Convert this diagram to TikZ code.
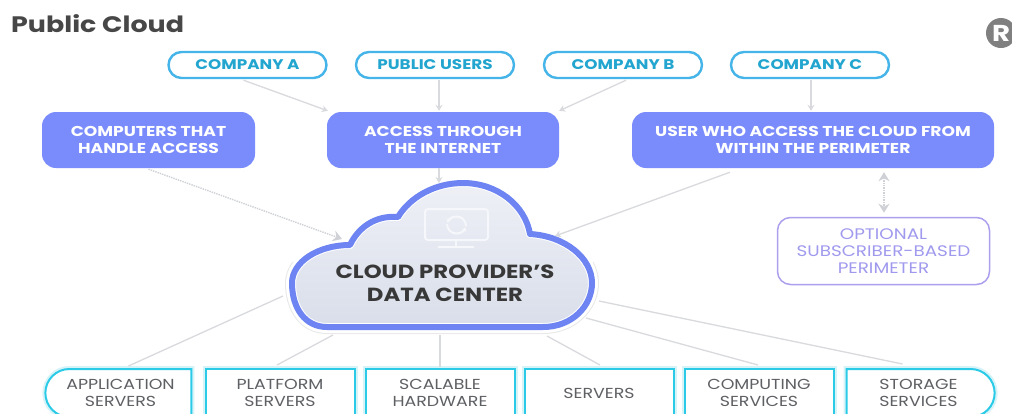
\documentclass[tikz,border=0pt]{standalone}
\usepackage{fontspec}
\setmainfont{Poppins}[FakeStretch=1.2]
\usetikzlibrary{arrows.meta,shapes.misc}
\definecolor{lineGrey}{HTML}{D9DADD}
\definecolor{dotGrey}{HTML}{CFD1D6}
\definecolor{pillBlue}{HTML}{45B4E8}
\definecolor{pillText}{HTML}{22A5CF}
\definecolor{boxPurple}{HTML}{7A8CFB}
\definecolor{optLine}{HTML}{AC9FEE}
\definecolor{optText}{HTML}{A09AEE}
\definecolor{cloudBlue}{HTML}{6E84F2}
\definecolor{cloudTop}{HTML}{EEF0F6}
\definecolor{cloudBot}{HTML}{D9DEEA}
\definecolor{cyanLine}{HTML}{2BCBE8}
\definecolor{cyanGlow}{HTML}{D6F3F8}
\definecolor{bottomText}{HTML}{5E6064}
\definecolor{iconCol}{HTML}{F6F7FA}
\tikzset{
  x=1pt,y=-1pt,
  conn/.style={draw=lineGrey,line width=1.3pt},
  arrowconn/.style={conn,-{Stealth[length=6pt,width=7pt]}},
  dotconn/.style={draw=dotGrey,line width=1.4pt,densely dotted},
  pill/.style={rounded rectangle,draw=pillBlue,line width=2.4pt,fill=white,minimum width=158pt,minimum height=26pt,inner sep=0pt,text=pillText,font=\fontsize{14}{16}\selectfont\bfseries},
  pbox/.style={rectangle,rounded corners=14pt,fill=boxPurple,minimum height=56pt,inner sep=0pt,align=center,text=white,font=\fontsize{14.3}{17}\selectfont\bfseries},
  svc/.style={rectangle,draw=cyanLine,line width=2pt,fill=white,minimum height=48pt,inner sep=0pt,align=center,text=bottomText,font=\fontsize{14.5}{17}\selectfont,
    preaction={draw=cyanGlow,line width=6pt}},
  svcl/.style={svc,rounded rectangle,rounded rectangle east arc=none},
  svcr/.style={svc,rounded rectangle,rounded rectangle west arc=none},
  icon/.style={draw=iconCol,line width=2pt},
}
\def\cloudpath{(327,327) -- (543,327) .. controls (572,327) and (592,306) .. (592,283) .. controls (592,258) and (565,236) .. (530,234) .. controls (525,205) and (497,183) .. (463,183) .. controls (435,183) and (410,197) .. (398,217) .. controls (375,215) and (358,228) .. (350,245) .. controls (318,245) and (292,262) .. (292,283) .. controls (292,308) and (305,327) .. (327,327) -- cycle}
\begin{document}
\begin{tikzpicture}
\useasboundingbox (0,0) rectangle (1012,413);
\clip (0,0) rectangle (1012,413);
\fill[white] (0,0) rectangle (1012,413);

% title and logo
\node[anchor=base west,inner sep=0pt,text=black!72,font=\fontsize{22.4}{26}\selectfont\bfseries] (title) at (11,32) {Public Cloud};
\node[circle,fill=black!50,minimum size=30pt,inner sep=0pt,text=white,font=\fontsize{23}{24}\selectfont\bfseries] (logo) at (1001,33) {R};

% cloud
\begin{scope}
\clip (0,262) rectangle (1012,413);
\draw[draw=black!9,line width=14pt,line join=round] \cloudpath;
\end{scope}
\draw[draw=white,line width=12pt,line join=round] \cloudpath;
\shade[top color=cloudTop,bottom color=cloudBot] \cloudpath;
\draw[draw=white,line width=8pt,line join=round] \cloudpath;
\draw[draw=cloudBlue,line width=6pt,line join=round] \cloudpath;
\node[inner sep=0pt,align=center,text=black!78,font=\fontsize{19}{23}\selectfont\bfseries] (cloud) at (445,283) {CLOUD PROVIDER’S\\DATA CENTER};

% monitor icon
\draw[icon,rounded corners=3pt] (425,209) rectangle (488,240);
\draw[icon] (456,240) -- (456,247);
\draw[icon] (438,247) -- (474,247);
\draw[icon,-{Stealth[length=4pt,width=5pt]}] (447,224) arc[start angle=180,end angle=20,radius=9.5];
\draw[icon,-{Stealth[length=4pt,width=5pt]}] (466,226) arc[start angle=0,end angle=-160,radius=9.5];

% pills
\node[pill] (compa) at (247.5,65) {COMPANY A};
\node[pill] (users) at (435,65) {PUBLIC USERS};
\node[pill] (compb) at (623,65) {COMPANY B};
\node[pill] (compc) at (810,65) {COMPANY C};

% purple boxes
\node[pbox,minimum width=213pt] (comp) at (148.5,140) {COMPUTERS THAT\\HANDLE ACCESS};
\node[pbox,minimum width=232pt] (inet) at (443,140) {ACCESS THROUGH\\THE INTERNET};
\node[pbox,minimum width=362pt] (user) at (813,140) {USER WHO ACCESS THE CLOUD FROM\\WITHIN THE PERIMETER};

% optional perimeter
\node[rectangle,rounded corners=13pt,draw=optLine,line width=1.5pt,fill=white,minimum width=212pt,minimum height=67pt,inner sep=0pt,align=center,text=optText,font=\fontsize{15.3}{17.3}\selectfont] (opt) at (883.5,251) {OPTIONAL\\SUBSCRIBER-BASED\\PERIMETER};

% service boxes
\node[svcl,minimum width=146pt] (app) at (120.5,393) {APPLICATION\\SERVERS};
\node[svc,minimum width=149pt] (plat) at (280,393) {PLATFORM\\SERVERS};
\node[svc,minimum width=149pt] (scal) at (440,393) {SCALABLE\\HARDWARE};
\node[svc,minimum width=149pt] (serv) at (599,393) {SERVERS};
\node[svc,minimum width=149pt] (cmpt) at (759,393) {COMPUTING\\SERVICES};
\node[svcr,minimum width=148pt] (stor) at (918.5,393) {STORAGE\\SERVICES};

% cloud attachment points
\coordinate (cTop) at (439,183);
\coordinate (cLeft) at (342,239);
\coordinate (cRight) at (555,236);
\coordinate (cApp) at (283,296);
\coordinate (cPlat) at (333,335);
\coordinate (cScal) at (440,335);
\coordinate (cServ) at (547,336);
\coordinate (cCmpt) at (586,318);
\coordinate (cStor) at (599,301);

% arrows
\draw[arrowconn] ([xshift=-4pt,yshift=-1pt]compa.south) -- ([xshift=1pt,yshift=1pt]inet.north west);
\draw[arrowconn] ([xshift=4pt,yshift=-1pt]users.south) -- ([xshift=-4pt,yshift=1pt]inet.north);
\draw[arrowconn] ([xshift=3pt,yshift=-1pt]compb.south) -- ([yshift=1pt]inet.north east);
\draw[arrowconn] ([xshift=1pt,yshift=-1pt]compc.south) -- ([xshift=-2pt,yshift=1pt]user.north);
\draw[arrowconn] ([xshift=-4pt]inet.south) -- (cTop);
\draw[arrowconn] ([xshift=-83pt,yshift=-4pt]user.south) -- (cRight);
\draw[dotconn,-{Stealth[length=9pt,width=11pt]}] ([yshift=-1pt]comp.south) -- (cLeft);
\draw[dotconn,{Stealth[length=9pt,width=11pt]}-{Stealth[length=9pt,width=11pt]}] ([xshift=71pt,yshift=-4pt]user.south) -- ([xshift=0.5pt,yshift=4pt]opt.north);

% service connectors
\draw[conn] (cApp) -- ([xshift=8pt,yshift=2pt]app.north);
\draw[conn] (cPlat) -- ([xshift=-3pt,yshift=3pt]plat.north);
\draw[conn] (cScal) -- ([yshift=1pt]scal.north);
\draw[conn] (cServ) -- ([xshift=1pt,yshift=3pt]serv.north);
\draw[conn] (cCmpt) -- ([xshift=-1pt,yshift=3pt]cmpt.north);
\draw[conn] (cStor) -- ([xshift=-16pt,yshift=4pt]stor.north);
\end{tikzpicture}
\end{document}
